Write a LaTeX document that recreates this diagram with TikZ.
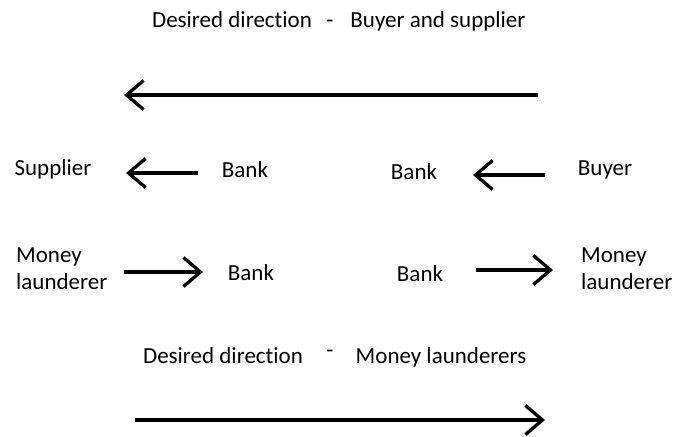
\documentclass[tikz,border=0pt]{standalone}
\usepackage{fontspec}
\setmainfont{Carlito}[Ligatures=NoCommon]
\usetikzlibrary{arrows.meta}
\begin{document}
\begin{tikzpicture}[x=1pt,y=-1pt,
  lbl/.style={inner sep=0pt,font=\fontsize{23}{27}\selectfont,anchor=base},
  twoline/.style={inner sep=0pt,font=\fontsize{23}{27}\selectfont,align=left,anchor=north west},
  flow/.style={line width=3.3pt,-{Straight Barb[length=17pt,width=29pt,line width=3.3pt]}}]
\useasboundingbox (0,0) rectangle (687,436);
% headline for the buyer and supplier direction
\node[lbl] (t1a) at (232,28) {Desired direction};
\node[lbl] (t1d) at (330,28) {-};
\node[lbl] (t1b) at (438,28) {Buyer and supplier};
\coordinate (t1s) at (538,95);
\coordinate (t1e) at (124,95);
\draw[flow] (t1s) -- (t1e);
% legitimate payment chain
\node[lbl] (sup) at (53,175) {Supplier};
\node[lbl] (bk1) at (245,177) {Bank};
\node[lbl] (bk2) at (414,179) {Bank};
\node[lbl] (buy) at (605,175) {Buyer};
\coordinate (a1s) at (198,173);
\coordinate (a1e) at (126,173);
\coordinate (a2s) at (545,175);
\coordinate (a2e) at (473,175);
\draw[flow] (a1s) -- (a1e);
\draw[flow] (a2s) -- (a2e);
% laundering chain
\node[twoline] (ml1) at (16,248) {Money\\launderer};
\node[lbl] (bk3) at (251,280) {Bank};
\node[lbl] (bk4) at (420,281) {Bank};
\node[twoline] (ml2) at (581,248) {Money\\launderer};
\coordinate (a3s) at (124,272);
\coordinate (a3e) at (203,272);
\coordinate (a4s) at (476,270);
\coordinate (a4e) at (553,270);
\draw[flow] (a3s) -- (a3e);
\draw[flow] (a4s) -- (a4e);
% headline for the launderers' direction
\node[lbl] (t2a) at (223,363) {Desired direction};
\node[lbl] (t2d) at (330,357) {-};
\node[lbl] (t2b) at (441,363) {Money launderers};
\coordinate (t2s) at (135,420);
\coordinate (t2e) at (545,420);
\draw[flow] (t2s) -- (t2e);
\end{tikzpicture}
\end{document}
